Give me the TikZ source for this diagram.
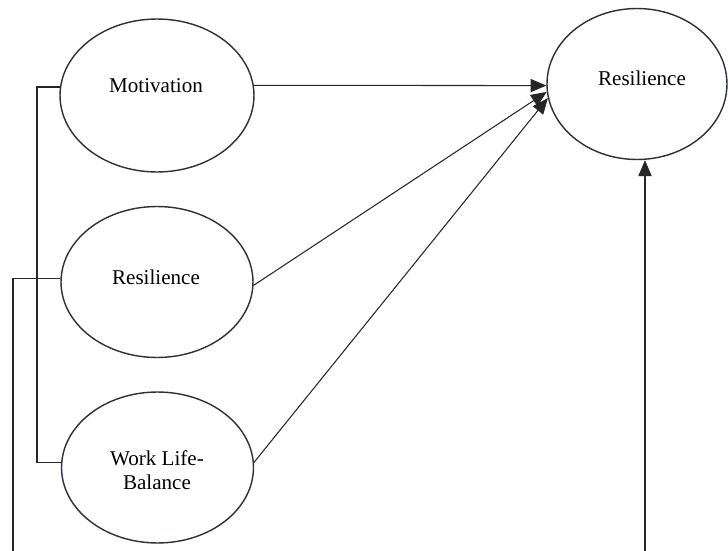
\documentclass[tikz,border=0pt]{standalone}
\usepackage{fontspec}
\setmainfont{Liberation Serif}
\newfontfamily\labelfont{Liberation Serif}
\usetikzlibrary{shapes.geometric,arrows.meta}
\definecolor{rim}{RGB}{44,48,62}
\tikzset{
  construct/.style={ellipse, draw=rim, line width=0.8pt, minimum width=3.84cm,
    minimum height=3.02cm, inner sep=0pt},
  txt/.style={font=\labelfont\fontsize{12}{14}\selectfont, align=center},
  link/.style={draw=black!85, line width=0.6pt},
  arr/.style={link, -{Triangle[length=9pt,width=7.5pt]}}
}
\begin{document}
\begin{tikzpicture}[x=0.02cm,y=-0.02cm]
\useasboundingbox[fill=white] (0,0) rectangle (728,551);
  %——————————————————————————————————————————————
  % Constructos
  %——————————————————————————————————————————————
  \node[construct, minimum width=3.88cm, minimum height=3.06cm] (mot) at (157,95.5) {};
  \node[construct] (res) at (157,282) {};
  \node[construct] (wlb) at (157.5,467.5) {};
  \node[construct, minimum width=3.6cm] (out) at (637,84) {};

  % Textos
  \node[txt] (mot-t) at (156,86) {Motivation};
  \node[txt] (res-t) at (156,277) {Resilience};
  \node[txt] (wlb-t) at (157,470) {Work Life-\\Balance};
  \node[txt] (out-t) at (642,78) {Resilience};

  %——————————————————————————————————————————————
  % Flechas hacia la resiliencia
  %——————————————————————————————————————————————
  \draw[arr] (mot.6) -- (out.181);
  \draw[arr] (res.-2) -- (out.185);
  \draw[arr] (wlb.3) -- (out.189);

  %——————————————————————————————————————————————
  % Corchetes de la izquierda y flecha inferior
  %——————————————————————————————————————————————
  \coordinate (inner) at (37,0);
  \coordinate (lb) at (13,551);
  \coordinate (rb) at (645,551);
  \draw[link] (mot.175) -| (inner |- wlb.177) -- (wlb.177);
  \draw[link] (res.178) -- (res.178 -| inner);
  \draw[link] (res.178 -| inner) -| (lb);
  \draw[arr] (rb) -- (rb |- out.south);
\end{tikzpicture}
\end{document}
